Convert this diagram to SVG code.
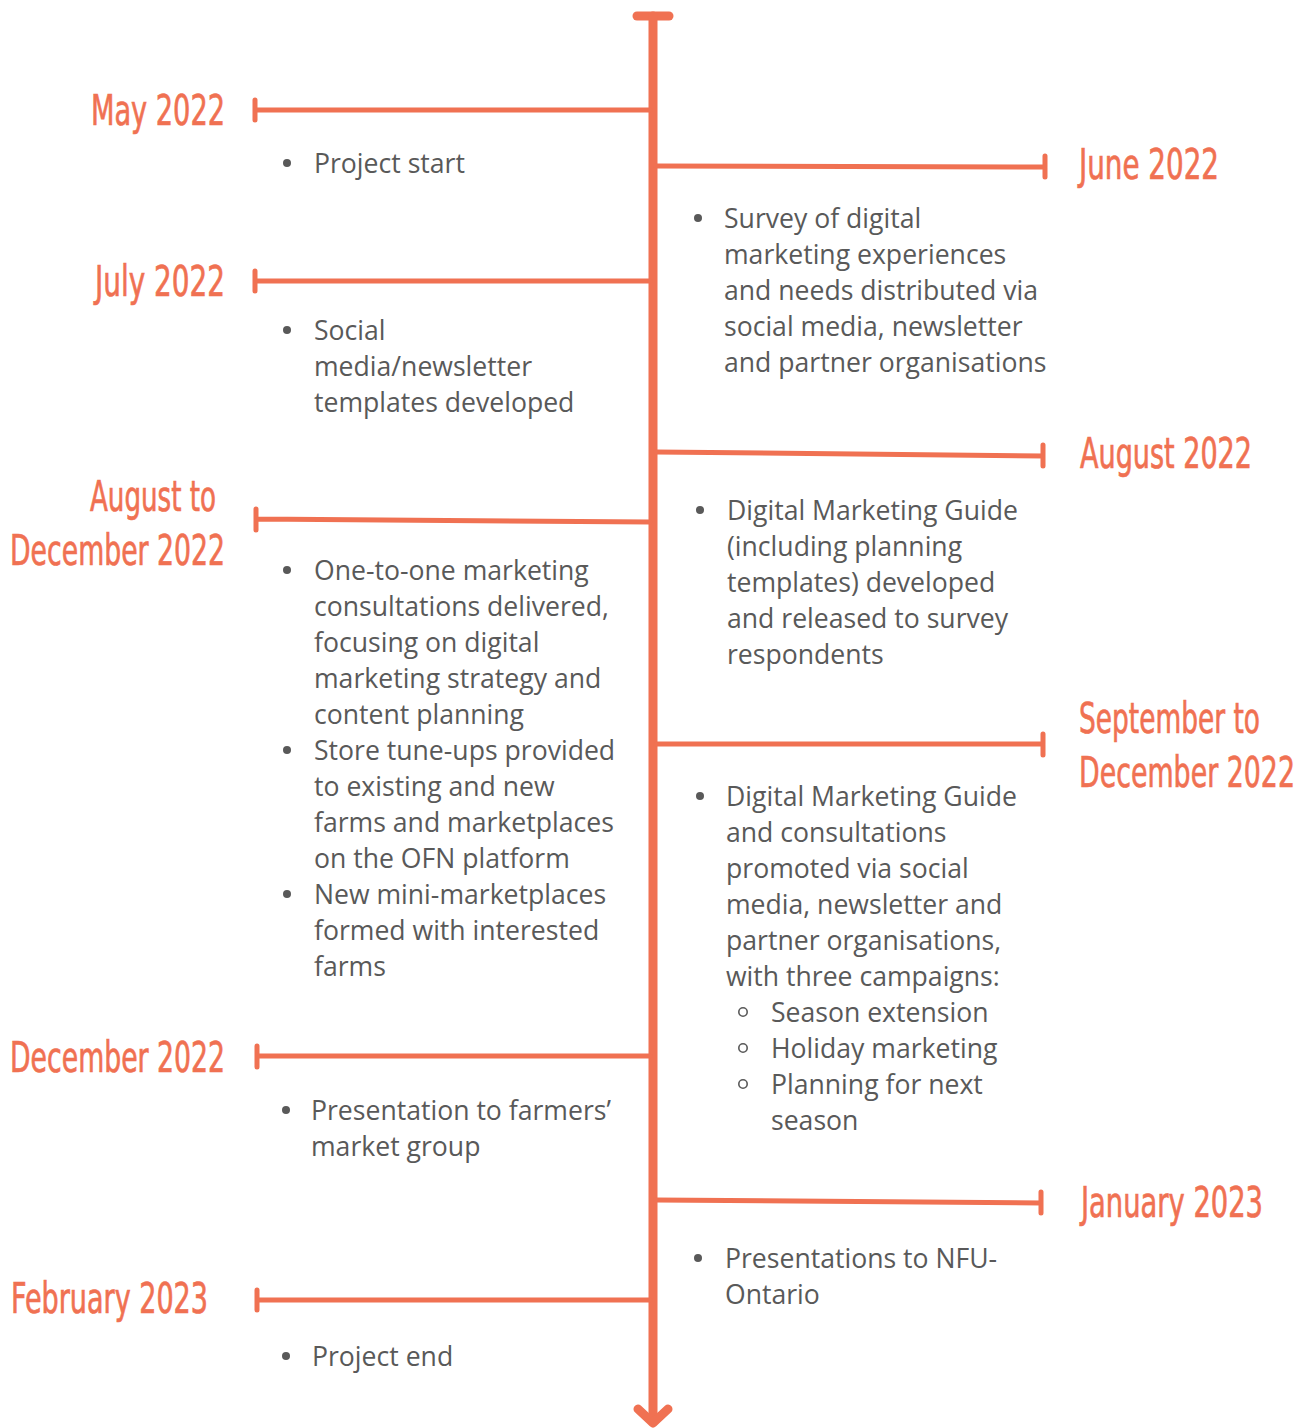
<svg xmlns="http://www.w3.org/2000/svg" width="1307" height="1428" viewBox="0 0 1307 1428">
  <style>
    .lbl{font-family:"Liberation Sans Narrow","DejaVu Sans Condensed","DejaVu Sans",sans-serif;font-size:43px;fill:#F07152;stroke:#F07152;stroke-width:0.7}
    .end{text-anchor:end}
    .body{font-family:"Open Sans","Liberation Sans",sans-serif;font-size:26.6px;fill:#595959}
    .axis{stroke:#F07152;stroke-width:9;stroke-linecap:round;stroke-linejoin:round;fill:none}
    .br{stroke:#F07152;stroke-width:5;stroke-linecap:round;fill:none}
    .dot{fill:#595959}
    .ring{fill:none;stroke:#595959;stroke-width:1.6}
  </style>

  <!-- timeline axis and branches -->
  <g id="connectors">
    <line class="axis" x1="637" y1="16" x2="669" y2="16"/>
    <line class="axis" x1="653" y1="16" x2="653" y2="1422"/>
    <polyline class="axis" points="638,1409 653,1423 668,1409"/>

    <!-- left branches -->
    <path class="br" d="M650 110 L255 110 M255 100 V120"/>
    <path class="br" d="M650 281 L255 281 M255 271 V291"/>
    <path class="br" d="M650 522 L256 519 M256 509 V530"/>
    <path class="br" d="M650 1056 L257 1056 M257 1046 V1067"/>
    <path class="br" d="M650 1300 L257 1300 M257 1290 V1310"/>

    <!-- right branches -->
    <path class="br" d="M656 166 L1045 167 M1045 156 V177"/>
    <path class="br" d="M656 452 L1043 456 M1043 445 V466"/>
    <path class="br" d="M656 744 L1043 744 M1043 734 V755"/>
    <path class="br" d="M656 1200 L1041 1203 M1041 1192 V1213"/>
  </g>

  <g id="may-2022">
    <text class="lbl" x="91" y="125" textLength="134" lengthAdjust="spacingAndGlyphs">May 2022</text>
    <circle class="dot" cx="287" cy="163" r="4"/>
    <text class="body" x="314" y="173">Project start</text>
  </g>

  <g id="june-2022">
    <text class="lbl end" x="1219" y="179" textLength="140" lengthAdjust="spacingAndGlyphs">June 2022</text>
    <circle class="dot" cx="698" cy="218" r="4"/>
    <text class="body" x="724" y="228">
      <tspan x="724">Survey of digital</tspan>
      <tspan x="724" dy="36">marketing experiences</tspan>
      <tspan x="724" dy="36">and needs distributed via</tspan>
      <tspan x="724" dy="36">social media, newsletter</tspan>
      <tspan x="724" dy="36">and partner organisations</tspan>
    </text>
  </g>

  <g id="july-2022">
    <text class="lbl" x="95" y="296" textLength="130" lengthAdjust="spacingAndGlyphs">July 2022</text>
    <circle class="dot" cx="287" cy="330" r="4"/>
    <text class="body" x="314" y="340">
      <tspan x="314">Social</tspan>
      <tspan x="314" dy="36">media/newsletter</tspan>
      <tspan x="314" dy="36">templates developed</tspan>
    </text>
  </g>

  <g id="august-2022">
    <text class="lbl end" x="1252" y="468" textLength="172" lengthAdjust="spacingAndGlyphs">August 2022</text>
    <circle class="dot" cx="700" cy="510" r="4"/>
    <text class="body" x="727" y="520">
      <tspan x="727">Digital Marketing Guide</tspan>
      <tspan x="727" dy="36">(including planning</tspan>
      <tspan x="727" dy="36">templates) developed</tspan>
      <tspan x="727" dy="36">and released to survey</tspan>
      <tspan x="727" dy="36">respondents</tspan>
    </text>
  </g>

  <g id="august-december-2022">
    <text class="lbl" x="90" y="511" textLength="126" lengthAdjust="spacingAndGlyphs">August to</text>
    <text class="lbl" x="10" y="565" textLength="215" lengthAdjust="spacingAndGlyphs">December 2022</text>
    <circle class="dot" cx="287" cy="570" r="4"/>
    <circle class="dot" cx="287" cy="750" r="4"/>
    <circle class="dot" cx="287" cy="894" r="4"/>
    <text class="body" x="314" y="580">
      <tspan x="314">One-to-one marketing</tspan>
      <tspan x="314" dy="36">consultations delivered,</tspan>
      <tspan x="314" dy="36">focusing on digital</tspan>
      <tspan x="314" dy="36">marketing strategy and</tspan>
      <tspan x="314" dy="36">content planning</tspan>
      <tspan x="314" dy="36">Store tune-ups provided</tspan>
      <tspan x="314" dy="36">to existing and new</tspan>
      <tspan x="314" dy="36">farms and marketplaces</tspan>
      <tspan x="314" dy="36">on the OFN platform</tspan>
      <tspan x="314" dy="36">New mini-marketplaces</tspan>
      <tspan x="314" dy="36">formed with interested</tspan>
      <tspan x="314" dy="36">farms</tspan>
    </text>
  </g>

  <g id="september-december-2022">
    <text class="lbl end" x="1260" y="733" textLength="181" lengthAdjust="spacingAndGlyphs">September to</text>
    <text class="lbl end" x="1295" y="787" textLength="216" lengthAdjust="spacingAndGlyphs">December 2022</text>
    <circle class="dot" cx="700" cy="796" r="4"/>
    <text class="body" x="726" y="806">
      <tspan x="726">Digital Marketing Guide</tspan>
      <tspan x="726" dy="36">and consultations</tspan>
      <tspan x="726" dy="36">promoted via social</tspan>
      <tspan x="726" dy="36">media, newsletter and</tspan>
      <tspan x="726" dy="36">partner organisations,</tspan>
      <tspan x="726" dy="36">with three campaigns:</tspan>
    </text>
    <circle class="ring" cx="743" cy="1012" r="4.2"/>
    <circle class="ring" cx="743" cy="1048" r="4.2"/>
    <circle class="ring" cx="743" cy="1084" r="4.2"/>
    <text class="body" x="771" y="1022">
      <tspan x="771">Season extension</tspan>
      <tspan x="771" dy="36">Holiday marketing</tspan>
      <tspan x="771" dy="36">Planning for next</tspan>
      <tspan x="771" dy="36">season</tspan>
    </text>
  </g>

  <g id="december-2022">
    <text class="lbl" x="10" y="1072" textLength="215" lengthAdjust="spacingAndGlyphs">December 2022</text>
    <circle class="dot" cx="286" cy="1110" r="4"/>
    <text class="body" x="311" y="1120">
      <tspan x="311">Presentation to farmers’</tspan>
      <tspan x="311" dy="36">market group</tspan>
    </text>
  </g>

  <g id="january-2023">
    <text class="lbl end" x="1263" y="1217" textLength="182" lengthAdjust="spacingAndGlyphs">January 2023</text>
    <circle class="dot" cx="698" cy="1258" r="4"/>
    <text class="body" x="725" y="1268">
      <tspan x="725">Presentations to NFU-</tspan>
      <tspan x="725" dy="36">Ontario</tspan>
    </text>
  </g>

  <g id="february-2023">
    <text class="lbl" x="11" y="1313" textLength="197" lengthAdjust="spacingAndGlyphs">February 2023</text>
    <circle class="dot" cx="286" cy="1356" r="4"/>
    <text class="body" x="312" y="1366">Project end</text>
  </g>
</svg>
